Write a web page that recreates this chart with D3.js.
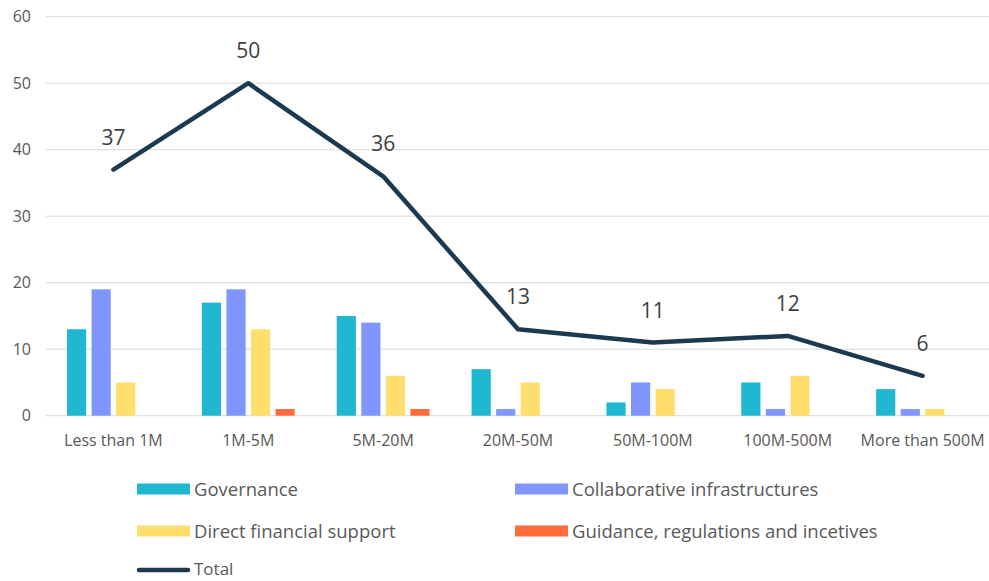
<!DOCTYPE html>
<html lang="en">
<head>
<meta charset="UTF-8">
<script src="https://d3js.org/d3.v7.min.js"></script>
<style>
  body { margin: 0; background: #fff; }
  text { font-family: "Open Sans", "Liberation Sans", sans-serif; }
</style>
</head>
<body>
<svg width="989" height="581" id="chart"></svg>
<script>
// data
const categories = ["Less than 1M", "1M-5M", "5M-20M", "20M-50M", "50M-100M", "100M-500M", "More than 500M"];
const seriesNames = ["Governance", "Collaborative infrastructures", "Direct financial support", "Guidance, regulations and incetives"];
const governance = [13, 17, 15, 7, 2, 5, 4];
const collaborative = [19, 19, 14, 1, 5, 1, 1];
const financial = [5, 13, 6, 5, 4, 6, 1];
const guidance = [0, 1, 1, 0, 0, 0, 0];
const total = [37, 50, 36, 13, 11, 12, 6];
const yTicks = [0, 10, 20, 30, 40, 50, 60];

const colors = ["#1fb8d0", "#7f96ff", "#ffde6e", "#ff6b3b"];
const lineColor = "#1b3a50";
const seriesValues = [governance, collaborative, financial, guidance];

let svg = d3.select("#chart");
const plotLeft = 46, plotRight = 990, plotTop = 16.7, plotBottom = 415.7;

let x0 = d3.scaleBand().domain(categories).range([plotLeft, plotRight]).padding(0);
let x1 = d3.scaleBand().domain(seriesNames).range([21, x0.bandwidth() - 21]).paddingInner(0.22);
let y = d3.scaleLinear().domain([0, 60]).range([plotBottom, plotTop]);

// grid lines
svg.append("g")
  .selectAll("line")
  .data(yTicks)
  .join("line")
  .attr("x1", plotLeft)
  .attr("x2", plotRight)
  .attr("y1", d => y(d))
  .attr("y2", d => y(d))
  .attr("stroke", "#d9d9d9")
  .attr("stroke-width", 1);

// y tick labels
svg.append("g")
  .selectAll("text")
  .data(yTicks)
  .join("text")
  .attr("x", 31)
  .attr("y", d => y(d) + 5.5)
  .attr("text-anchor", "end")
  .attr("font-size", 16)
  .attr("fill", "#595959")
  .text(d => d);

// x labels
svg.append("g")
  .selectAll("text")
  .data(categories)
  .join("text")
  .attr("x", d => x0(d) + x0.bandwidth() / 2)
  .attr("y", 446)
  .attr("text-anchor", "middle")
  .attr("font-size", 16)
  .attr("fill", "#595959")
  .text(d => d);

// bars
seriesNames.forEach((name, si) => {
  svg.append("g")
    .selectAll("rect")
    .data(seriesValues[si].map((v, i) => ({ cat: categories[i], v: v })).filter(d => d.v > 0))
    .join("rect")
    .attr("x", d => x0(d.cat) + x1(name))
    .attr("y", d => y(d.v))
    .attr("width", x1.bandwidth())
    .attr("height", d => y(0) - y(d.v))
    .attr("fill", colors[si]);
});

// total line
let line = d3.line()
  .x((d, i) => x0(categories[i]) + x0.bandwidth() / 2)
  .y(d => y(d));

svg.append("path")
  .datum(total)
  .attr("d", line)
  .attr("fill", "none")
  .attr("stroke", lineColor)
  .attr("stroke-width", 4.5)
  .attr("stroke-linejoin", "round")
  .attr("stroke-linecap", "round");

// total labels
svg.append("g")
  .selectAll("text")
  .data(total)
  .join("text")
  .attr("x", (d, i) => x0(categories[i]) + x0.bandwidth() / 2)
  .attr("y", d => y(d) - 25)
  .attr("text-anchor", "middle")
  .attr("font-size", 21)
  .attr("fill", "#404040")
  .text(d => d);

// legend
const legendPos = [[137, 489], [515, 489], [137, 531], [515, 531]];
seriesNames.forEach((name, i) => {
  svg.append("rect")
    .attr("x", legendPos[i][0])
    .attr("y", legendPos[i][1] - 5.5)
    .attr("width", 53)
    .attr("height", 11)
    .attr("fill", colors[i]);
  svg.append("text")
    .attr("x", legendPos[i][0] + 57)
    .attr("y", legendPos[i][1] + 6.5)
    .attr("font-size", 18.5)
    .attr("fill", "#595959")
    .text(name);
});

svg.append("line")
  .attr("x1", 139)
  .attr("x2", 188)
  .attr("y1", 570)
  .attr("y2", 570)
  .attr("stroke", lineColor)
  .attr("stroke-width", 4.5)
  .attr("stroke-linecap", "round");
svg.append("text")
  .attr("x", 194)
  .attr("y", 575)
  .attr("font-size", 17)
  .attr("fill", "#595959")
  .text("Total");
</script>
</body>
</html>
